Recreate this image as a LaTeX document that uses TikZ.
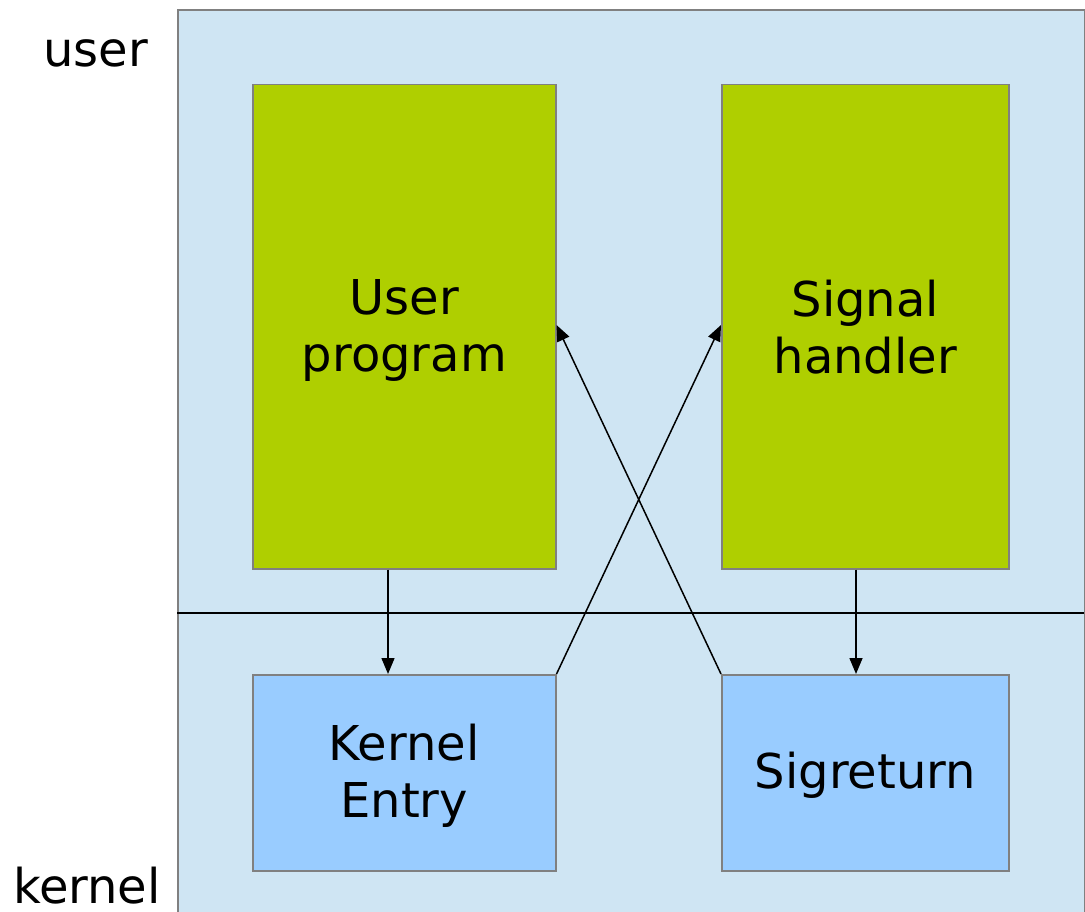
\documentclass[tikz,border=0pt]{standalone}
\usepackage{fontspec}
\setmainfont{DejaVu Sans}
\usetikzlibrary{arrows.meta}
\definecolor{bgblue}{HTML}{CFE5F3}
\definecolor{ugreen}{HTML}{AFCF00}
\definecolor{kblue}{HTML}{99CCFF}
\definecolor{bordergray}{HTML}{808080}
\newcommand\lnstrut{\rule[-6pt]{0pt}{48pt}}
\tikzset{
  blockbox/.style={draw=bordergray, line width=1.5pt, anchor=north west, inner sep=0pt, align=center,
    font=\fontsize{48}{57}\selectfont},
  userbox/.style={blockbox, fill=ugreen},
  kernbox/.style={blockbox, fill=kblue},
  flow/.style={line width=1.5pt, -{Triangle[length=16pt,width=13pt]}},
  sidelabel/.style={font=\fontsize{48}{57}\selectfont, inner sep=0pt}
}
\begin{document}
\begin{tikzpicture}[x=1pt,y=-1pt]
\useasboundingbox (0,0) rectangle (1085,912);
\node[draw=bordergray, line width=2pt, fill=bgblue, anchor=north west, inner sep=0pt,
  minimum width=907pt, minimum height=950pt] (bg) at (177,9) {};
\coordinate (divL) at (177,613);
\coordinate (divR) at (1084,613);
\draw[line width=1.5pt] (divL) -- (divR);
\node[userbox, minimum width=303pt, minimum height=484pt] (up) at (252,84) {\lnstrut User\\\lnstrut program};
\node[userbox, minimum width=287pt, minimum height=484pt] (sh) at (721,84) {\lnstrut Signal\\\lnstrut handler};
\node[kernbox, minimum width=303pt, minimum height=196pt] (ke) at (252,674) {\lnstrut Kernel\\\lnstrut Entry};
\node[kernbox, minimum width=287pt, minimum height=196pt] (sr) at (721,674) {\lnstrut Sigreturn};
\node[sidelabel, anchor=base east] (ul) at (148,67) {user};
\node[sidelabel, anchor=base east] (kl) at (161,903) {kernel};
\draw[flow] (up.south -| 388,0) -- (ke.north -| 388,0);
\draw[flow] (sh.south -| 856,0) -- (sr.north -| 856,0);
\draw[flow] (ke.north east) -- (sh.west |- 0,325);
\draw[flow] (sr.north west) -- (up.east |- 0,325);
\end{tikzpicture}
\end{document}
